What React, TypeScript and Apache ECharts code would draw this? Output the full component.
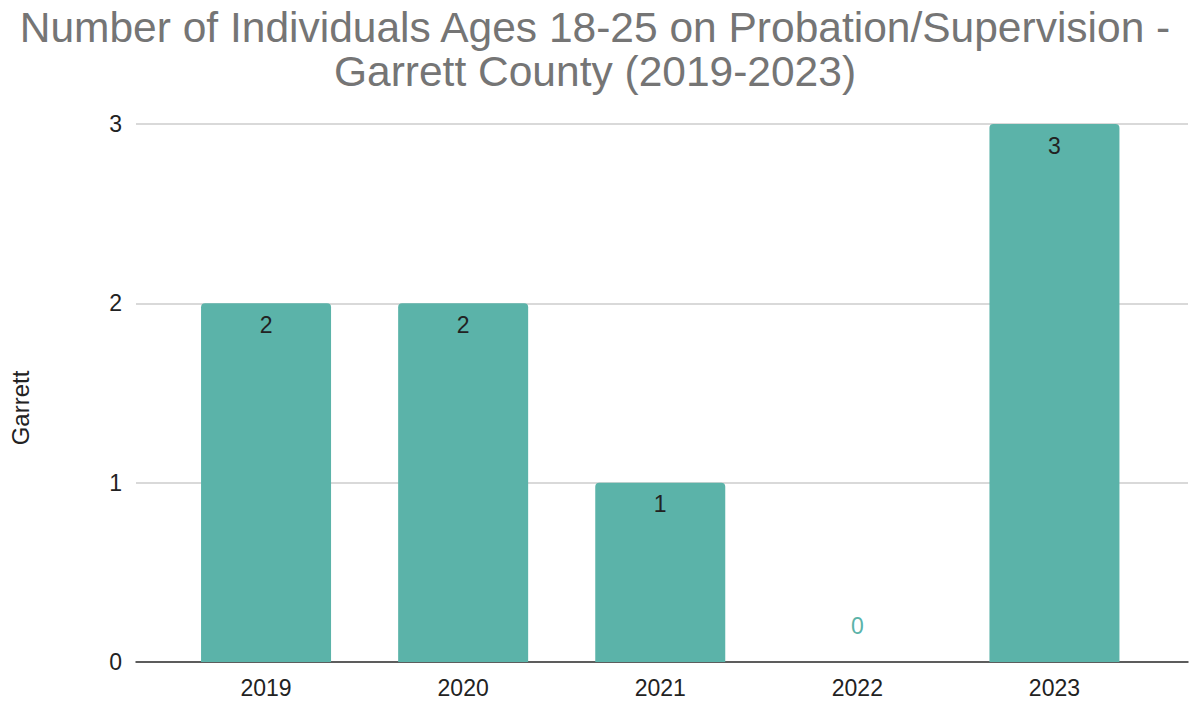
import React, { useEffect, useRef } from "react";
import * as echarts from "echarts";

const categories = ["2019", "2020", "2021", "2022", "2023"];
const values = [2, 2, 1, 0, 3];
const yTicks = [0, 1, 2, 3];
const titleText = "Number of Individuals Ages 18-25 on Probation/Supervision -\nGarrett County (2019-2023)";
const yAxisName = "Garrett";

const BAR = "#5BB3A9";
const FONT = "Liberation Sans, Arial, sans-serif";

export default function App() {
  const ref = useRef<HTMLDivElement>(null);
  useEffect(() => {
    document.body.style.margin = "0";
    const chart = echarts.init(ref.current!, null, { renderer: "svg" });
    const yMin = yTicks[0];
    const yMax = yTicks[yTicks.length - 1];
    chart.setOption({
      animation: false,
      backgroundColor: "#ffffff",
      textStyle: { fontFamily: FONT },
      title: {
        text: titleText,
        left: "center",
        top: 0,
        textStyle: {
          fontFamily: FONT,
          fontSize: 42.5,
          fontWeight: "normal",
          color: "#757575",
          lineHeight: 44,
        },
      },
      grid: [
        { left: 132, right: 2, top: 124, bottom: 39 },
        { left: 167.5, right: 37, top: 124, bottom: 39 },
      ],
      xAxis: [
        {
          gridIndex: 0,
          type: "value",
          min: 0,
          max: 1,
          axisLine: { show: true, onZero: false, lineStyle: { color: "#333333", width: 1.5 } },
          axisTick: { show: false },
          axisLabel: { show: false },
          splitLine: { show: false },
        },
        {
          gridIndex: 1,
          type: "category",
          data: categories,
          axisLine: { show: false },
          axisTick: { show: false },
          axisLabel: { color: "#222222", fontSize: 23, margin: 14, fontFamily: FONT },
        },
      ],
      yAxis: [
        {
          gridIndex: 0,
          type: "value",
          min: yMin,
          max: yMax,
          interval: 1,
          name: yAxisName,
          nameLocation: "middle",
          nameGap: 104,
          nameTextStyle: { color: "#222222", fontSize: 24, fontFamily: FONT, padding: [0, 30, 0, 0] },
          axisLine: { show: false },
          axisTick: { show: false },
          axisLabel: { color: "#222222", fontSize: 23, margin: 14, fontFamily: FONT },
          splitLine: { show: true, lineStyle: { color: "#cccccc", width: 1.5 } },
        },
        {
          gridIndex: 1,
          type: "value",
          min: yMin,
          max: yMax,
          interval: 1,
          show: false,
        },
      ],
      series: [
        {
          type: "bar",
          xAxisIndex: 1,
          yAxisIndex: 1,
          barWidth: 130,
          itemStyle: { color: BAR, borderRadius: [4, 4, 0, 0] },
          label: {
            show: true,
            position: "insideTop",
            distance: 10,
            color: "#222222",
            fontSize: 23,
            fontFamily: FONT,
          },
          data: values.map((v) =>
            v === 0
              ? { value: v, label: { position: "top", distance: 25, color: BAR } }
              : { value: v }
          ),
        },
      ],
    });
    return () => chart.dispose();
  }, []);
  return <div ref={ref} style={{ width: 1190, height: 701 }} />;
}
